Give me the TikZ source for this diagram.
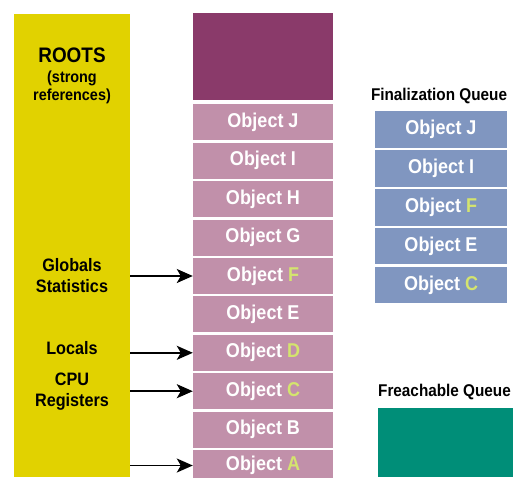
\documentclass[tikz,border=0pt]{standalone}
\usepackage{fontspec}
\setmainfont[FakeStretch=0.9]{Liberation Sans}
\usetikzlibrary{positioning, arrows.meta}

\definecolor{rootyellow}{RGB}{225,210,0}
\definecolor{heaptopc}{RGB}{138,58,106}
\definecolor{heappink}{RGB}{193,144,170}
\definecolor{finblue}{RGB}{128,150,192}
\definecolor{freachteal}{RGB}{0,142,120}
\definecolor{markgreen}{RGB}{212,228,110}

\newcommand{\marked}[1]{\textcolor{markgreen}{#1}}

\tikzset{
    heapobj/.style={fill=heappink, text=white, minimum width=140pt, minimum height=36pt,
        inner sep=0pt, font=\bfseries\fontsize{20}{20}\selectfont},
    finobj/.style={heapobj, fill=finblue, minimum width=132pt, minimum height=36.5pt},
    rootlabel/.style={align=center, inner sep=0pt, font=\bfseries\fontsize{18}{21}\selectfont},
    qtitle/.style={inner sep=0pt, font=\bfseries\fontsize{17}{17}\selectfont},
    rootref/.style={-{Stealth[length=16pt, width=14pt, inset=4pt]}, line width=1.8pt},
}

\begin{document}
\begin{tikzpicture}[x=1pt, y=-1pt]
    \useasboundingbox (0,0) rectangle (516,477);

    % roots
    \node[fill=rootyellow, minimum width=116pt, minimum height=463pt, inner sep=0pt] (roots) at (72,245.5) {};
    \node[rootlabel, font=\bfseries\fontsize{21}{21}\selectfont] (rootstitle) at (72,55) {ROOTS};
    \node[rootlabel, font=\bfseries\fontsize{16}{18}\selectfont, below=8pt of rootstitle] (rootsnote) {(strong\\references)};

    % managed heap
    \node[heapobj, fill=heaptopc, minimum height=87pt] (heaptop) at (263,56.5) {};
    \node[heapobj, below=4pt of heaptop] (hJ) {Object J};
    \node[heapobj, below=2pt of hJ] (hI) {Object I};
    \node[heapobj, below=2pt of hI] (hH) {Object H};
    \node[heapobj, below=2pt of hH] (hG) {Object G};
    \node[heapobj, below=2pt of hG] (hF) {Object \marked{F}};
    \node[heapobj, below=2pt of hF] (hE) {Object E};
    \node[heapobj, below=2pt of hE] (hD) {Object \marked{D}};
    \node[heapobj, below=2pt of hD] (hC) {Object \marked{C}};
    \node[heapobj, below=2pt of hC] (hB) {Object B};
    \node[heapobj, below=2pt of hB, minimum height=31pt] (hA) {Object \marked{A}};

    % root labels and references
    \node[rootlabel] (globals) at (roots |- hF) {Globals\\Statistics};
    \node[rootlabel, yshift=5pt] (locals) at (roots |- hD) {Locals};
    \node[rootlabel] (cpu) at (roots |- hC) {CPU\\Registers};

    \draw[rootref] (roots.east |- hF) -- (hF.west);
    \draw[rootref] (roots.east |- hD) -- (hD.west);
    \draw[rootref] (roots.east |- hC) -- (hC.west);
    \draw[rootref] (roots.east |- hA) -- (hA.west);

    % finalization queue
    \node[finobj] (fJ) at (441,129.5) {Object J};
    \node[finobj, below=2pt of fJ] (fI) {Object I};
    \node[finobj, below=2pt of fI] (fF) {Object \marked{F}};
    \node[finobj, below=2pt of fF] (fE) {Object E};
    \node[finobj, below=2pt of fE] (fC) {Object \marked{C}};
    \node[qtitle, above=7pt of fJ, xshift=-2pt] (fintitle) {Finalization Queue};

    % freachable queue
    \node[fill=freachteal, minimum width=135pt, minimum height=69pt, inner sep=0pt] (freach) at (445.5,442.5) {};
    \node[qtitle, above=8pt of freach, xshift=-1pt] (freachtitle) {Freachable Queue};
\end{tikzpicture}
\end{document}
